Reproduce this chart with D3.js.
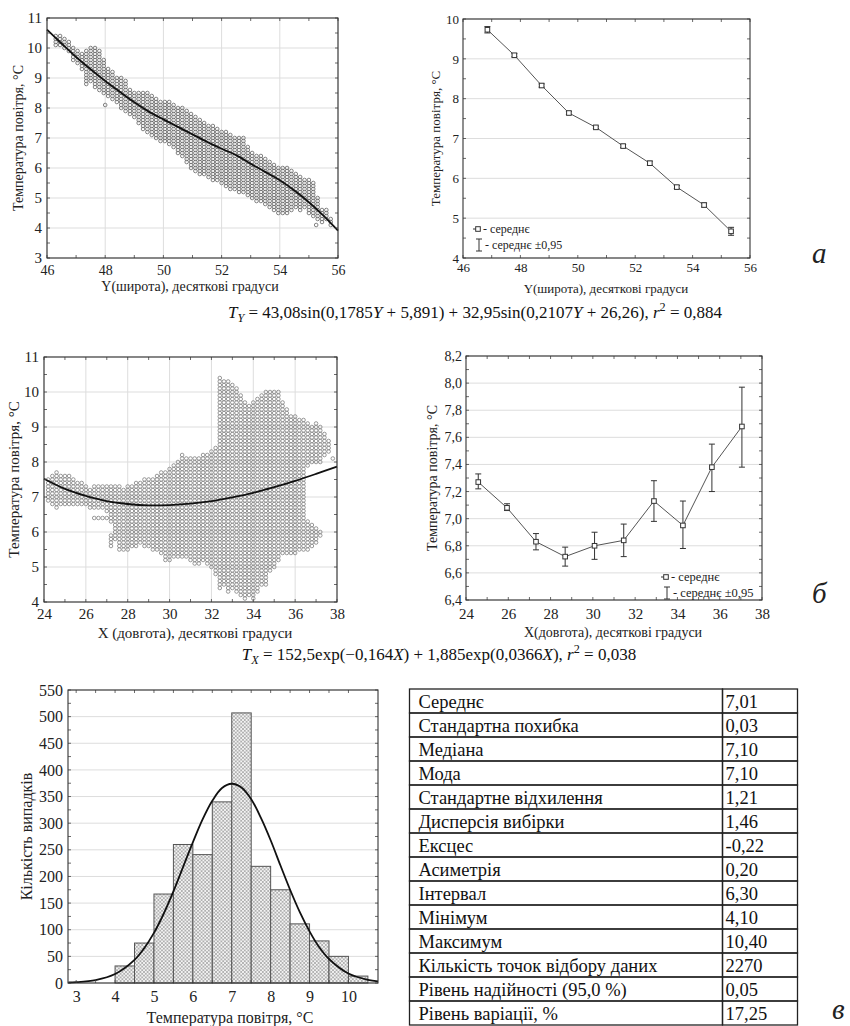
<!DOCTYPE html>
<html>
<head>
<meta charset="utf-8">
<script src="https://cdn.jsdelivr.net/npm/d3@7"></script>
<style>
body { margin: 0; background: #fff; }
svg text { font-family: "Liberation Serif", Tinos, "Times New Roman", Times, "Nimbus Roman", "DejaVu Serif", serif; }
</style>
</head>
<body>
<svg id="fig" width="850" height="1026"></svg>
<script>
// ---- data ----

// a) temperature vs latitude: cloud columns [lat, lowest T, highest T]
const latCloud = [
  [46.30,10.1,10.4],[46.45,10.1,10.4],[46.60,10.0,10.3],[46.75,9.9,10.2],[46.90,9.6,10.0],
  [47.05,9.5,9.9],[47.20,9.3,9.8],[47.35,8.8,9.9],[47.50,8.9,10.0],[47.65,8.7,10.0],
  [47.80,8.6,9.9],[47.95,8.5,9.6],[48.10,8.4,9.3],[48.25,8.3,9.2],[48.40,8.2,9.0],
  [48.55,8.0,9.0],[48.70,7.9,8.9],[48.85,7.8,8.6],[49.00,7.7,8.5],[49.15,7.5,8.5],
  [49.30,7.3,8.5],[49.45,7.2,8.5],[49.60,7.1,8.4],[49.75,7.0,8.3],[49.90,6.9,8.2],
  [50.05,6.9,8.2],[50.20,6.8,8.2],[50.35,6.7,8.1],[50.50,6.5,8.0],[50.65,6.4,8.0],
  [50.80,6.2,7.9],[50.95,6.0,7.8],[51.10,5.9,7.7],[51.25,5.8,7.6],[51.40,5.8,7.5],
  [51.55,5.7,7.4],[51.70,5.6,7.4],[51.85,5.6,7.3],[52.00,5.5,7.2],[52.15,5.4,7.2],
  [52.30,5.3,7.1],[52.45,5.3,7.0],[52.60,5.2,7.0],[52.75,5.2,7.0],[52.90,5.1,6.7],
  [53.05,5.0,6.5],[53.20,4.9,6.4],[53.35,4.9,6.4],[53.50,4.8,6.3],[53.65,4.7,6.2],
  [53.80,4.6,6.1],[53.95,4.5,6.0],[54.10,4.5,6.0],[54.25,4.5,6.0],[54.40,4.6,5.9],
  [54.55,4.7,5.8],[54.70,4.6,5.7],[54.85,4.7,5.6],[55.00,4.5,5.6],[55.15,4.4,5.5],
  [55.30,4.3,5.0],[55.45,4.2,4.6],[55.60,4.3,4.6],[55.75,4.1,4.3]
];
const latSingles = [[48.0,8.1],[55.25,4.1]];
const latFit = [
  [46,10.61],[46.5,10.15],[47,9.70],[47.5,9.29],[48,8.90],[48.5,8.54],[49,8.19],
  [49.5,7.88],[50,7.62],[50.5,7.37],[51,7.12],[51.5,6.87],[52,6.64],[52.5,6.43],
  [53,6.14],[53.5,5.87],[54,5.59],[54.5,5.25],[55,4.86],[55.5,4.41],[56,3.91]
];
const latMeanX = [46.85,47.79,48.74,49.69,50.63,51.58,52.51,53.45,54.40,55.34];
const latMean  = [9.73,9.09,8.33,7.64,7.28,6.81,6.38,5.78,5.33,4.67];
const latCI    = [0.08,0.04,0.04,0.04,0.03,0.04,0.05,0.04,0.05,0.10];

// б) temperature vs longitude: cloud segments [lon, lowest T, highest T]
const lonCloud = [
  [24.2,6.9,7.5],[24.4,6.8,7.6],[24.6,6.7,7.7],[24.8,6.8,7.6],[25.0,6.8,7.6],[25.2,6.8,7.6],
  [25.4,6.8,7.5],[25.6,6.8,7.4],[25.8,6.8,7.4],[26.0,6.8,7.3],[26.2,6.7,7.2],
  [26.4,6.7,7.3],[26.4,6.4,6.4],[26.6,6.7,7.3],[26.6,6.4,6.4],[26.8,6.7,7.3],[26.8,6.4,6.4],
  [27.0,6.6,7.3],[27.0,6.4,6.4],[27.2,5.6,5.9],[27.2,6.3,7.3],[27.4,5.8,7.3],[27.6,5.5,7.3],
  [27.8,5.5,7.2],[28.0,5.5,7.3],[28.2,5.6,7.3],[28.4,5.6,7.4],[28.6,5.7,7.4],[28.8,5.6,7.5],
  [29.0,5.6,7.5],[29.2,5.5,7.5],[29.4,5.5,7.6],[29.6,5.4,7.7],[29.8,5.2,7.7],[30.0,5.2,7.8],
  [30.2,5.3,7.9],[30.4,5.3,8.0],[30.6,5.3,8.2],[30.8,5.3,8.1],[31.0,5.2,8.1],[31.2,5.1,8.1],
  [31.4,5.1,8.1],[31.6,5.2,8.2],[31.8,5.1,8.2],[32.0,5.0,8.3],[32.2,4.8,8.4],[32.4,4.4,10.4],
  [32.6,4.5,10.3],[32.8,4.3,10.3],[33.0,4.4,10.2],[33.2,4.3,10.1],[33.4,4.2,9.9],[33.6,4.1,9.7],
  [33.8,4.2,9.6],[34.0,4.1,9.7],[34.2,4.3,9.8],[34.4,4.5,9.9],[34.6,4.5,10.0],[34.8,4.9,10.0],
  [35.0,5.0,10.0],[35.2,5.2,10.0],[35.4,5.4,9.7],[35.6,5.4,9.5],[35.8,5.4,9.3],[36.0,5.4,9.3],
  [36.2,5.5,9.2],[36.4,5.5,9.2],[36.6,5.5,6.3],[36.6,7.9,9.1],[36.8,5.6,6.2],[36.8,8.0,9.0],
  [37.0,5.7,6.1],[37.0,8.0,9.1],[37.2,5.9,6.0],[37.2,8.0,9.0],[37.4,8.2,8.8],[37.6,8.3,8.6],
  [37.8,8.1,8.1]
];
const lonFit = [
  [24,7.52],[25,7.23],[26,7.03],[27,6.88],[28,6.80],[29,6.76],[30,6.77],[31,6.81],
  [32,6.88],[33,6.99],[34,7.12],[35,7.28],[36,7.46],[37,7.66],[38,7.87]
];
const lonMeanX = [24.58,25.94,27.31,28.69,30.08,31.46,32.89,34.26,35.63,37.05];
const lonMean  = [7.27,7.08,6.83,6.72,6.80,6.84,7.13,6.95,7.38,7.68];
const lonLo    = [7.22,7.06,6.77,6.65,6.70,6.72,6.98,6.78,7.20,7.38];
const lonHi    = [7.33,7.11,6.89,6.79,6.90,6.96,7.28,7.13,7.55,7.97];

// в) histogram of air temperature
const binStart = [4.0,4.5,5.0,5.5,6.0,6.5,7.0,7.5,8.0,8.5,9.0,9.5,10.0];
const binCount = [32,75,167,260,241,340,507,219,175,111,79,50,13];
const normalFit = [
  [2.8,0.9],[3,1.5],[3.5,5.6],[4,16.9],[4.5,43.5],[4.75,65.4],[5,94],[5.25,130],[5.5,172],
  [5.75,218],[6,264],[6.25,307],[6.5,342],[6.75,366],[7,374],[7.25,367],[7.5,345],[7.75,310],
  [8,268],[8.25,221],[8.5,175],[8.75,133],[9,97],[9.25,67],[9.5,45],[10,17.7],[10.5,5.8],[10.76,3.1]
];
const statLabels = ["Середнє","Стандартна похибка","Медіана","Мода","Стандартне відхилення",
  "Дисперсія вибірки","Ексцес","Асиметрія","Інтервал","Мінімум","Максимум",
  "Кількість точок відбору даних","Рівень надійності (95,0 %)","Рівень варіації, %"];
const statValues = ["7,01","0,03","7,10","7,10","1,21","1,46","-0,22","0,20","6,30","4,10",
  "10,40","2270","0,05","17,25"];

// ---- drawing ----
const svg = d3.select("#fig");
const serif = '"Liberation Serif", Tinos, "Times New Roman", Times, "Nimbus Roman", "DejaVu Serif", serif';
const comma1 = d => d3.format(".1f")(d).replace(".", ",");
const ink = "#222";

function panel(o) {
  const g = svg.append("g");
  const x = d3.scaleLinear().domain(o.xDom).range([o.l, o.r]);
  const y = d3.scaleLinear().domain(o.yDom).range([o.b, o.t]);

  g.append("g").selectAll("line").data(o.yTicks).join("line")
    .attr("x1", o.l).attr("x2", o.r).attr("y1", d => y(d)).attr("y2", d => y(d))
    .attr("stroke", "#dddddd");
  if (o.vGrid) g.append("g").selectAll("line").data(o.xTicks).join("line")
    .attr("y1", o.t).attr("y2", o.b).attr("x1", d => x(d)).attr("x2", d => x(d))
    .attr("stroke", "#dddddd");

  let ax = g.append("g").attr("transform", `translate(0,${o.b})`)
    .call(d3.axisBottom(x).tickValues(o.xTicks).tickSize(0).tickPadding(o.xPad)
      .tickFormat(o.xFmt || (d => d)));
  ax.select(".domain").remove();
  ax.attr("font-family", serif).attr("font-size", o.xFs).selectAll("text").attr("fill", ink);

  ax = g.append("g").attr("transform", `translate(${o.l},0)`)
    .call(d3.axisLeft(y).tickValues(o.yTicks).tickSize(0).tickPadding(o.yPad)
      .tickFormat(o.yFmt || (d => d)));
  ax.select(".domain").remove();
  ax.attr("font-family", serif).attr("font-size", o.yFs).selectAll("text").attr("fill", ink);

  g.append("text").attr("x", o.xTitleX).attr("y", o.xTitleY)
    .attr("text-anchor", "middle").attr("font-size", o.titleFs).attr("fill", ink)
    .text(o.xTitle);
  g.append("text")
    .attr("transform", `translate(${o.yTitleX},${(o.t + o.b) / 2}) rotate(-90)`)
    .attr("dy", "0.35em").attr("text-anchor", "middle")
    .attr("font-size", o.titleFs).attr("fill", ink).text(o.yTitle);

  const plot = g.append("g");
  return { g, plot, x, y, o };
}

function frame(p) {
  const { g, x, y, o } = p;
  const mids = t => t.concat(d3.pairs(t, (a, b) => (a + b) / 2));
  const xs = mids(o.xTicks), ys = mids(o.yTicks);
  const tk = g.append("g").attr("stroke", "#444").attr("stroke-width", 0.8);
  xs.forEach(v => {
    tk.append("line").attr("x1", x(v)).attr("x2", x(v)).attr("y1", o.b).attr("y2", o.b - 3);
    tk.append("line").attr("x1", x(v)).attr("x2", x(v)).attr("y1", o.t).attr("y2", o.t + 3);
  });
  ys.forEach(v => {
    tk.append("line").attr("y1", y(v)).attr("y2", y(v)).attr("x1", o.l).attr("x2", o.l + 3);
    tk.append("line").attr("y1", y(v)).attr("y2", y(v)).attr("x1", o.r).attr("x2", o.r - 3);
  });
  g.append("rect").attr("x", o.l).attr("y", o.t).attr("width", o.r - o.l)
    .attr("height", o.b - o.t).attr("fill", "none").attr("stroke", "#333").attr("stroke-width", 1.1);
}

function cloudPoints(cloud) {
  const pts = [];
  cloud.forEach(([c, lo, hi]) => {
    for (let t = Math.round(lo * 10); t <= Math.round(hi * 10); t++) pts.push([c, t / 10]);
  });
  return pts;
}

function scatter(p, pts, fit, col) {
  p.plot.append("g").selectAll("circle").data(pts).join("circle")
    .attr("cx", d => p.x(d[0])).attr("cy", d => p.y(d[1])).attr("r", 1.8)
    .attr("fill", "none").attr("stroke", col).attr("stroke-width", 0.85);
  p.plot.append("path").datum(fit)
    .attr("d", d3.line().x(d => p.x(d[0])).y(d => p.y(d[1])).curve(d3.curveCatmullRom))
    .attr("fill", "none").attr("stroke", "#111").attr("stroke-width", 1.8);
}

function means(p, xs, m, lo, hi) {
  const pts = xs.map((v, i) => ({ x: v, m: m[i], lo: lo[i], hi: hi[i] }));
  p.plot.append("path").datum(pts)
    .attr("d", d3.line().x(d => p.x(d.x)).y(d => p.y(d.m)))
    .attr("fill", "none").attr("stroke", "#555").attr("stroke-width", 1);
  const eb = p.plot.append("g").selectAll("g").data(pts).join("g")
    .attr("stroke", "#333").attr("stroke-width", 1);
  eb.append("line").attr("x1", d => p.x(d.x)).attr("x2", d => p.x(d.x))
    .attr("y1", d => p.y(d.lo)).attr("y2", d => p.y(d.hi));
  eb.append("line").attr("x1", d => p.x(d.x) - 3).attr("x2", d => p.x(d.x) + 3)
    .attr("y1", d => p.y(d.lo)).attr("y2", d => p.y(d.lo));
  eb.append("line").attr("x1", d => p.x(d.x) - 3).attr("x2", d => p.x(d.x) + 3)
    .attr("y1", d => p.y(d.hi)).attr("y2", d => p.y(d.hi));
  eb.append("rect").attr("x", d => p.x(d.x) - 2.3).attr("y", d => p.y(d.m) - 2.3)
    .attr("width", 4.6).attr("height", 4.6).attr("fill", "#fff");
}

function legend(g, lx, ly, fs) {
  g.append("rect").attr("x", lx - 2.3).attr("y", ly - 2.3).attr("width", 4.6).attr("height", 4.6)
    .attr("fill", "#fff").attr("stroke", "#333");
  g.append("line").attr("x1", lx - 5).attr("x2", lx - 2.3).attr("y1", ly).attr("y2", ly).attr("stroke", "#333");
  g.append("text").attr("x", lx + 5).attr("y", ly).attr("dy", "0.35em").attr("font-size", fs)
    .attr("fill", ink).text("- середнє");
  const y2 = ly + 16;
  const bar = g.append("g").attr("stroke", "#333");
  bar.append("line").attr("x1", lx + 1).attr("x2", lx + 1).attr("y1", y2 - 6).attr("y2", y2 + 6);
  bar.append("line").attr("x1", lx - 2).attr("x2", lx + 4).attr("y1", y2 - 6).attr("y2", y2 - 6);
  bar.append("line").attr("x1", lx - 2).attr("x2", lx + 4).attr("y1", y2 + 6).attr("y2", y2 + 6);
  g.append("text").attr("x", lx + 7).attr("y", y2).attr("dy", "0.35em").attr("font-size", fs)
    .attr("fill", ink).text("- середнє ±0,95");
}

function formula(cx, by, parts, fs) {
  const t = svg.append("text").attr("x", cx).attr("y", by).attr("text-anchor", "middle")
    .attr("font-size", fs).attr("fill", "#111");
  let shift = 0;
  parts.forEach(([s, st]) => {
    const ts = t.append("tspan").text(s);
    let want = 0;
    if (st.includes("sub")) { want = 4; ts.attr("font-size", fs * 0.72); }
    if (st.includes("sup")) { want = -7; ts.attr("font-size", fs * 0.72); }
    if (st.includes("i")) ts.attr("font-style", "italic");
    if (want !== shift) { ts.attr("dy", want - shift); shift = want; }
  });
}

const tempTitle = "Температура повітря, °С";

// a) left
const pA = panel({
  l: 47, r: 338, t: 18, b: 258, xDom: [46, 56], yDom: [3, 11],
  xTicks: d3.range(46, 57, 2), yTicks: d3.range(3, 12, 1), vGrid: true,
  xPad: 7, yPad: 5, xFs: 14, yFs: 15, titleFs: 14,
  xTitle: "Y(широта), десяткові градуси", xTitleX: 190, xTitleY: 291,
  yTitle: tempTitle, yTitleX: 18
});
scatter(pA, cloudPoints(latCloud).concat(latSingles), latFit, "#6c6c6c");
frame(pA);

// a) right
const pA2 = panel({
  l: 463, r: 750, t: 19, b: 258, xDom: [46, 56], yDom: [4, 10],
  xTicks: d3.range(46, 57, 2), yTicks: d3.range(4, 11, 1), vGrid: false,
  xPad: 5, yPad: 4, xFs: 13, yFs: 13, titleFs: 13,
  xTitle: "Y(широта), десяткові градуси", xTitleX: 606, xTitleY: 293,
  yTitle: tempTitle, yTitleX: 435
});
means(pA2, latMeanX, latMean, latMean.map((m, i) => m - latCI[i]), latMean.map((m, i) => m + latCI[i]));
legend(pA2.plot, 478, 229, 12);
frame(pA2);

formula(475, 318, [["T", "i"], ["Y", "isub"], [" = 43,08sin(0,1785", ""], ["Y", "i"],
  [" + 5,891) + 32,95sin(0,2107", ""], ["Y", "i"], [" + 26,26), ", ""], ["r", "i"],
  ["2", "sup"], [" = 0,884", ""]], 17);

// б) left
const pB = panel({
  l: 44, r: 337, t: 357, b: 602, xDom: [24, 38], yDom: [4, 11],
  xTicks: d3.range(24, 39, 2), yTicks: d3.range(4, 12, 1), vGrid: true,
  xPad: 6, yPad: 5, xFs: 15, yFs: 15, titleFs: 15,
  xTitle: "X (довгота), десяткові градуси", xTitleX: 195, xTitleY: 638,
  yTitle: tempTitle, yTitleX: 14
});
scatter(pB, cloudPoints(lonCloud), lonFit, "#858585");
frame(pB);

// б) right
const pB2 = panel({
  l: 466, r: 762, t: 356, b: 600, xDom: [24, 38], yDom: [6.4, 8.2],
  xTicks: d3.range(24, 39, 2), yTicks: d3.range(64, 83, 2).map(v => v / 10), vGrid: false,
  xPad: 8, yPad: 4, xFs: 15, yFs: 14, titleFs: 14, yFmt: comma1,
  xTitle: "X(довгота), десяткові градуси", xTitleX: 613, xTitleY: 637,
  yTitle: tempTitle, yTitleX: 432
});
means(pB2, lonMeanX, lonMean, lonLo, lonHi);
legend(pB2.plot, 666, 577, 12.5);
frame(pB2);

formula(439, 660, [["T", "i"], ["X", "isub"], [" = 152,5exp(−0,164", ""], ["X", "i"],
  [") + 1,885exp(0,0366", ""], ["X", "i"], ["), ", ""], ["r", "i"], ["2", "sup"],
  [" = 0,038", ""]], 17);

// в) histogram
const defs = svg.append("defs");
const pat = defs.append("pattern").attr("id", "hatch").attr("width", 3.6).attr("height", 3.6)
  .attr("patternUnits", "userSpaceOnUse");
pat.append("rect").attr("width", 3.6).attr("height", 3.6).attr("fill", "#f4f4f4");
pat.append("path").attr("d", "M0,0L3.6,3.6M3.6,0L0,3.6").attr("stroke", "#8c8c8c").attr("stroke-width", 0.6);

const pC = panel({
  l: 68, r: 378, t: 690, b: 983, xDom: [2.79, 10.76], yDom: [0, 550],
  xTicks: d3.range(3, 11, 1), yTicks: d3.range(0, 551, 50), vGrid: false,
  xPad: 8, yPad: 5, xFs: 16, yFs: 16, titleFs: 16,
  xTitle: tempTitle, xTitleX: 230, xTitleY: 1023,
  yTitle: "Кількість випадків", yTitleX: 26
});
pC.plot.append("g").selectAll("rect").data(binStart).join("rect")
  .attr("x", d => pC.x(d)).attr("width", d => pC.x(d + 0.5) - pC.x(d))
  .attr("y", (d, i) => pC.y(binCount[i])).attr("height", (d, i) => pC.y(0) - pC.y(binCount[i]))
  .attr("fill", "url(#hatch)").attr("stroke", "#555").attr("stroke-width", 1);
pC.plot.append("path").datum(normalFit)
  .attr("d", d3.line().x(d => pC.x(d[0])).y(d => pC.y(d[1])).curve(d3.curveCatmullRom))
  .attr("fill", "none").attr("stroke", "#111").attr("stroke-width", 1.8);
frame(pC);

// в) statistics table
const tb = { l: 409.5, m: 722.5, r: 797.5, t: 689, h: 24 };
const rows = svg.append("g").selectAll("g").data(statLabels).join("g")
  .attr("transform", (d, i) => `translate(0,${tb.t + i * tb.h})`);
rows.append("rect").attr("x", tb.l).attr("width", tb.m - tb.l).attr("height", tb.h)
  .attr("fill", "none").attr("stroke", "#222").attr("stroke-width", 1.3);
rows.append("rect").attr("x", tb.m).attr("width", tb.r - tb.m).attr("height", tb.h)
  .attr("fill", "none").attr("stroke", "#222").attr("stroke-width", 1.3);
rows.append("text").attr("x", tb.l + 9).attr("y", 19).attr("font-size", 18.5).attr("fill", "#111")
  .text(d => d);
rows.append("text").attr("x", tb.m + 3).attr("y", 19).attr("font-size", 18.5).attr("fill", "#111")
  .text((d, i) => statValues[i]);

// panel letters
[["а", 812, 263], ["б", 812, 603], ["в", 832, 1019]].forEach(([s, x, y]) =>
  svg.append("text").attr("x", x).attr("y", y).attr("font-size", 29)
    .attr("font-style", "italic").attr("fill", "#222").text(s));
</script>
</body>
</html>
